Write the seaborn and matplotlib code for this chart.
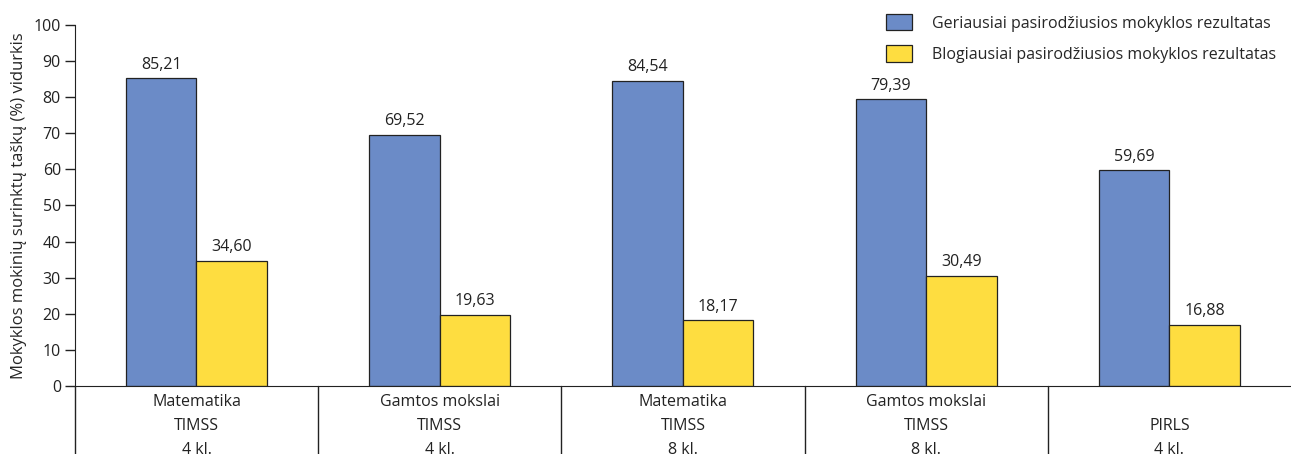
import matplotlib
matplotlib.use("Agg")
from matplotlib import pyplot as plt
import matplotlib.transforms as mtransforms
import seaborn as sns
import pandas as pd

categories = ["Matematika\nTIMSS\n4 kl.", "Gamtos mokslai\nTIMSS\n4 kl.",
              "Matematika\nTIMSS\n8 kl.", "Gamtos mokslai\nTIMSS\n8 kl.",
              "PIRLS\n4 kl."]
best = [85.21, 69.52, 84.54, 79.39, 59.69]
worst = [34.60, 19.63, 18.17, 30.49, 16.88]
series = ["Geriausiai pasirodžiusios mokyklos rezultatas",
          "Blogiausiai pasirodžiusios mokyklos rezultatas"]
colors = ["#6B8BC7", "#FEDD40"]

df = pd.DataFrame({
    "cat": categories * 2,
    "val": best + worst,
    "series": [series[0]] * len(categories) + [series[1]] * len(categories),
})

sns.set_style("ticks")
plt.rcParams['font.family'] = ['Open Sans', 'DejaVu Sans']
plt.rcParams['font.size'] = 11.5

fig = plt.figure(figsize=(12.91, 4.54), dpi=100)
ax = fig.add_axes([0.058, 0.15, 0.942, 0.795])

sns.barplot(data=df, x="cat", y="val", hue="series", palette=colors,
            width=0.58, edgecolor="#222222", linewidth=0.9, ax=ax,
            saturation=1, legend=True)

for cont in ax.containers:
    ax.bar_label(cont, labels=[f"{v:.2f}".replace(".", ",") for v in cont.datavalues],
                 padding=4, fontsize=11.5, color="#222222")

ax.set_xlim(-0.5, len(categories) - 0.5)
ax.set_ylim(0, 100)
ax.set_yticks(range(0, 101, 10))
ax.set_xlabel("")
ax.set_ylabel("Mokyklos mokinių surinktų taškų (%) vidurkis", fontsize=12, labelpad=5)
ax.tick_params(axis="y", length=7, width=1, pad=3, labelsize=11.5, colors="#222222")
ax.tick_params(axis="x", length=0, pad=6, labelsize=11.5, colors="#222222")

# bottom-align the shorter labels with the three-line ones
nmax = max(c.count("\n") for c in categories)
ax.set_xticks(range(len(categories)))
ax.set_xticklabels(["\n" * (nmax - c.count("\n")) + c for c in categories])
for lab in ax.get_xticklabels():
    lab.set_linespacing(1.65)

for s in ["top", "right"]:
    ax.spines[s].set_visible(False)
ax.spines["left"].set_color("#222222")
ax.spines["bottom"].set_color("#222222")

# separators below the axis
trans = mtransforms.blended_transform_factory(ax.transData, ax.transAxes)
for i in range(len(categories) - 1):
    ax.plot([i + 0.5, i + 0.5], [0, -0.25], transform=trans, color="#222222",
            lw=1, clip_on=False)
ax.plot([-0.5, -0.5], [0, -0.25], transform=trans, color="#222222", lw=1, clip_on=False)

leg = ax.legend(loc="upper right", bbox_to_anchor=(1.0, 1.07), frameon=False,
                handlelength=1.6, handleheight=1.2, handletextpad=1.3,
                labelspacing=0.85, fontsize=11.5)

fig.savefig("out.png", dpi=100)
